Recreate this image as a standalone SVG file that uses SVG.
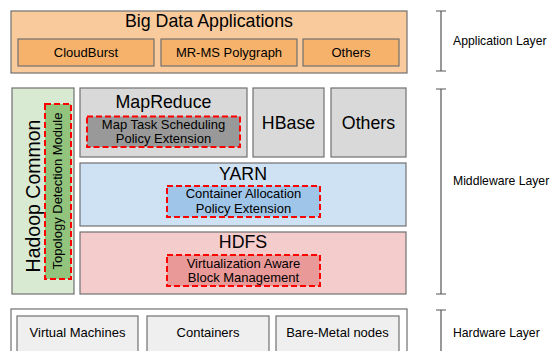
<svg xmlns="http://www.w3.org/2000/svg" width="557" height="351" viewBox="0 0 557 351">
<style>
text{font-family:"Liberation Sans",Arial,sans-serif;fill:#000;text-anchor:middle}
.b{stroke:#707070;stroke-width:1.2}
.d{stroke:#ff0000;stroke-width:2;stroke-dasharray:6,3}
.t{font-size:17.8px}
.s{font-size:13px}
.l{font-size:12.2px;text-anchor:start}
.br{stroke:#555;stroke-width:1.2;fill:none}
</style>
<rect width="557" height="351" fill="#fff"/>
<g id="app">
<rect class="b" x="11" y="11" width="396" height="62" fill="#f9cb9c"/>
<text class="t" x="209" y="27">Big Data Applications</text>
</g>
<g id="cloudburst"><rect class="b" x="18" y="39" width="136" height="27" fill="#f6b26b"/><text class="s" x="86" y="57">CloudBurst</text></g>
<g id="mrms"><rect class="b" x="161" y="39" width="136" height="27" fill="#f6b26b"/><text class="s" x="229" y="57">MR-MS Polygraph</text></g>
<g id="appothers"><rect class="b" x="303" y="39" width="96" height="27" fill="#f6b26b"/><text class="s" x="351" y="57">Others</text></g>

<g id="hadoopcommon">
<rect class="b" x="12" y="88" width="62" height="206" fill="#d9ead3"/>
<text transform="translate(39.5,196) rotate(-90)" style="font-size:19.5px">Hadoop Common</text>
</g>
<g id="topology">
<rect class="d" x="45" y="104" width="26" height="175" fill="#93c47d"/>
<text transform="translate(62,191) rotate(-90)" style="font-size:13px">Topology Detection Module</text>
</g>
<g id="mapreduce">
<rect class="b" x="80" y="88" width="167" height="69" fill="#d9d9d9"/>
<text class="t" x="163.5" y="108">MapReduce</text>
</g>
<g id="maptask">
<rect class="d" x="87" y="116.5" width="153" height="30.5" fill="#999999"/>
<text class="s" x="163.5" y="128.5">Map Task Scheduling</text>
<text class="s" x="163.5" y="143">Policy Extension</text>
</g>
<g id="hbase"><rect class="b" x="253" y="88" width="71" height="69" fill="#d9d9d9"/><text class="t" x="288.5" y="129">HBase</text></g>
<g id="midothers"><rect class="b" x="331" y="88" width="75" height="69" fill="#d9d9d9"/><text class="t" x="368.5" y="129">Others</text></g>
<g id="yarn">
<rect class="b" x="80" y="163" width="326" height="63" fill="#cfe2f3"/>
<text class="t" x="243" y="180">YARN</text>
</g>
<g id="container">
<rect class="d" x="167" y="186" width="153" height="31" fill="#9fc5e8"/>
<text class="s" x="243.5" y="198">Container Allocation</text>
<text class="s" x="243.5" y="212.5">Policy Extension</text>
</g>
<g id="hdfs">
<rect class="b" x="80" y="232" width="326" height="62" fill="#f4cccc"/>
<text class="t" x="243" y="248">HDFS</text>
</g>
<g id="vablock">
<rect class="d" x="167" y="255" width="153" height="31" fill="#ea9999"/>
<text class="s" x="243.5" y="267.5">Virtualization Aware</text>
<text class="s" x="243.5" y="282">Block Management</text>
</g>

<g id="hardware"><rect class="b" x="11" y="309" width="396" height="60" fill="#fff"/></g>
<g id="vm"><rect class="b" x="17" y="316" width="121" height="50" fill="#efefef"/><text class="s" x="77.5" y="337">Virtual Machines</text></g>
<g id="containers"><rect class="b" x="147" y="316" width="122" height="50" fill="#efefef"/><text class="s" x="208" y="337">Containers</text></g>
<g id="baremetal"><rect class="b" x="276" y="316" width="123" height="50" fill="#efefef"/><text class="s" x="337.5" y="337">Bare-Metal nodes</text></g>

<g id="connectors">
<path class="br" d="M436 11H446M441 11V71M436 71H446"/>
<path class="br" d="M436 89H446M441 89V294M436 294H446"/>
<path class="br" d="M436 310H446M441 310V360"/>
</g>
<g id="layers">
<text class="l" x="453" y="45">Application Layer</text>
<text class="l" x="453" y="185">Middleware Layer</text>
<text class="l" x="453" y="337">Hardware Layer</text>
</g>
</svg>
